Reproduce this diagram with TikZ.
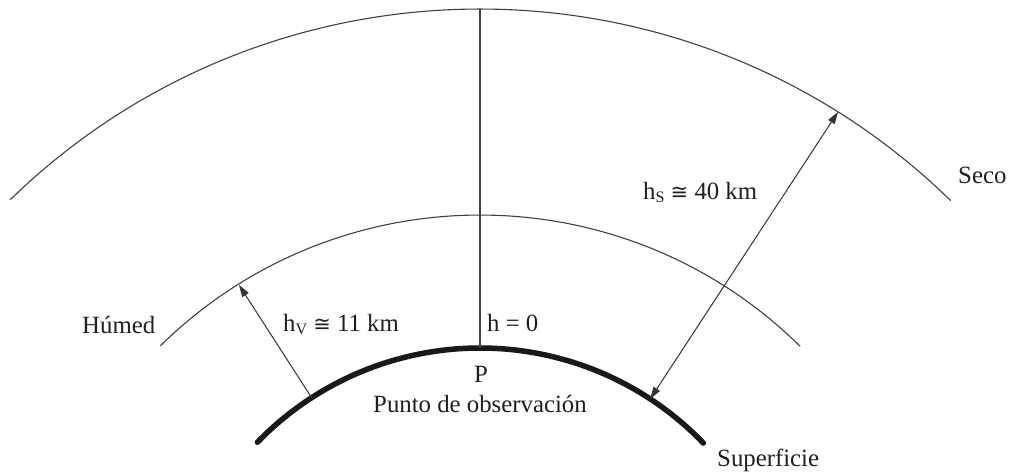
\documentclass[tikz,border=0pt]{standalone}
\usepackage{fontspec}
\setmainfont{Liberation Serif}
\newfontfamily\symfont{DejaVu Sans}
\usetikzlibrary{arrows.meta,calc}
\newcommand{\subl}[1]{\raisebox{-0.12em}{\fontsize{16}{16}\selectfont #1}}
\begin{document}
\begin{tikzpicture}[x=1pt,y=1pt,
  thinline/.style={line width=1.1pt,draw=black!75},
  surf/.style={line width=5.5pt,draw=black!90,line cap=round},
  dim/.style={line width=1pt,draw=black!80},
  lbl/.style={font=\fontsize{24.8}{28}\selectfont,text=black!88,inner sep=0pt}]
\useasboundingbox (0,0) rectangle (1011,473);
% centres
\coordinate (Co) at (480,-210);
\coordinate (Cm) at (480,-198);
\coordinate (Cs) at (480,-185);
% outer arc (Seco)
\draw[thinline] (Co) ++(134.2:674) arc[start angle=134.2,end angle=45.7,radius=674];
% middle arc (Humed)
\draw[thinline] (Cm) ++(134.5:456) arc[start angle=134.5,end angle=45.4,radius=456];
% surface arc
\draw[surf] (Cs) ++(135.9:310) arc[start angle=135.9,end angle=43.9,radius=310];
% points
\coordinate (top) at ($(Co)+(90:674)$);
\coordinate (P0) at ($(Cs)+(90:310)$);
\coordinate (hvA) at ($(Cs)+(122.9:310)$);
\coordinate (hvB) at (239,188);
\coordinate (hsA) at ($(Cs)+(56.7:310)$);
\coordinate (hsB) at (838,361);
% vertical line
\draw[thinline] (top) -- (P0);
% arrows
\draw[dim,-{Triangle[length=12pt,width=7.5pt]}] (hvA) -- (hvB);
\draw[dim,{Triangle[length=12pt,width=7.5pt]}-{Triangle[length=12pt,width=7.5pt]}] (hsA) -- (hsB);
% labels
\node[lbl,anchor=base west] (lhv) at (283,141) {h\subl{V} {\symfont\fontsize{21}{26}\selectfont ≅} 11 km};
\node[lbl,anchor=base west] (lh0) at (487,141) {h = 0};
\node[lbl,anchor=base] (lP) at (481,90) {P};
\node[lbl,anchor=base] (lpo) at (480,60) {Punto de observación};
\node[lbl,anchor=base west] (lhs) at (643,273) {h\subl{S} {\symfont\fontsize{21}{26}\selectfont ≅} 40 km};
\node[lbl,anchor=base west] (lseco) at (958,289) {Seco};
\node[lbl,anchor=base west] (lhum) at (82,139) {Húmed};
\node[lbl,anchor=base west] (lsup) at (717,6) {Superficie};
\end{tikzpicture}
\end{document}
